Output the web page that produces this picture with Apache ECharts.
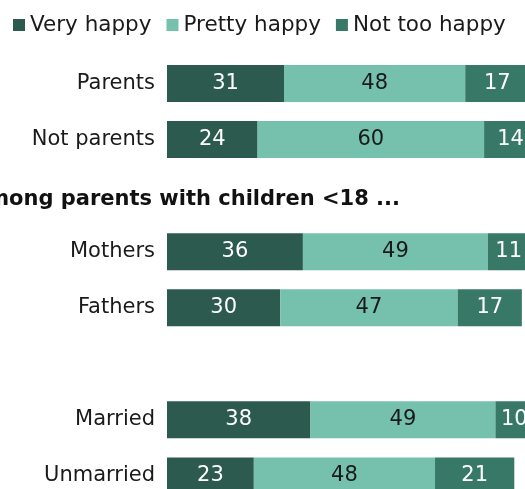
<!DOCTYPE html>
<html>
<head>
<meta charset="utf-8">
<script src="https://cdn.jsdelivr.net/npm/echarts@6/dist/echarts.min.js"></script>
<style>
  html, body { margin: 0; padding: 0; background: #ffffff; }
  #chart { width: 525px; height: 489px; }
</style>
</head>
<body>
<div id="chart"></div>
<script>
// Rows from top to bottom; empty strings are spacer rows between groups
const categories = ['Parents', 'Not parents', '', 'Mothers', 'Fathers', '', 'Married', 'Unmarried'];
const veryHappy   = [31, 24, null, 36, 30, null, 38, 23];
const prettyHappy = [48, 60, null, 49, 47, null, 49, 48];
const notTooHappy = [17, 14, null, 11, 17, null, 10, 21];
const seriesNames = ['Very happy', 'Pretty happy', 'Not too happy'];
const groupHeading = 'Among parents with children <18 ...';

const FONT = '"DejaVu Sans", Verdana, sans-serif';
const colors = ['#2c5a4e', '#76c0ae', '#377866'];
const labelColors = ['#ffffff', '#1a1a1a', '#ffffff'];

const chart = echarts.init(document.getElementById('chart'), null, { renderer: 'canvas' });

function barSeries(name, data, idx) {
  return {
    name: name,
    type: 'bar',
    stack: 'total',
    data: data,
    barWidth: 37,
    itemStyle: { color: colors[idx] },
    label: {
      show: true,
      position: 'inside',
      color: labelColors[idx],
      fontFamily: FONT,
      fontSize: 21,
      formatter: p => (p.value == null ? '' : String(p.value))
    },
    emphasis: { disabled: true },
    animation: false
  };
}

chart.setOption({
  backgroundColor: '#ffffff',
  animation: false,
  legend: {
    left: 13,
    top: 14,
    padding: 0,
    itemWidth: 12,
    itemHeight: 12,
    itemGap: 15,
    icon: 'rect',
    textStyle: { fontFamily: FONT, fontSize: 21.5, color: '#1a1a1a' },
    data: seriesNames
  },
  grid: {
    left: 167,
    top: 55.5,
    width: 377.5,
    height: 448.4,
    containLabel: false,
    outerBoundsMode: 'none'
  },
  xAxis: {
    type: 'value',
    min: 0,
    max: 100,
    show: false
  },
  yAxis: {
    type: 'category',
    data: categories,
    inverse: true,
    axisLine: { show: false },
    axisTick: { show: false },
    axisLabel: {
      margin: 12,
      fontFamily: FONT,
      fontSize: 21,
      color: '#1a1a1a'
    }
  },
  graphic: [{
    type: 'text',
    right: 125,
    top: 189,
    style: {
      text: groupHeading,
      font: 'bold 21px ' + FONT,
      fill: '#111111',
      textAlign: 'right'
    }
  }],
  series: [
    barSeries(seriesNames[0], veryHappy, 0),
    barSeries(seriesNames[1], prettyHappy, 1),
    barSeries(seriesNames[2], notTooHappy, 2)
  ]
});
</script>
</body>
</html>
